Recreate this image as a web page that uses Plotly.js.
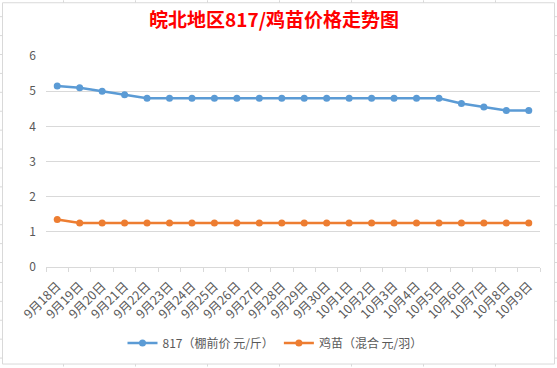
<!DOCTYPE html>
<html>
<head>
<meta charset="utf-8">
<script src="https://cdn.plot.ly/plotly-3.0.1.min.js"></script>
<style>
html,body{margin:0;padding:0;background:#fff;}
#chart{width:557px;height:368px;}
</style>
</head>
<body>
<div id="chart"></div>
<script>
var categories = ["9月18日","9月19日","9月20日","9月21日","9月22日","9月23日","9月24日","9月25日","9月26日","9月27日","9月28日","9月29日","9月30日","10月1日","10月2日","10月3日","10月4日","10月5日","10月6日","10月7日","10月8日","10月9日"];
var price817 = [5.15,5.1,5.0,4.9,4.8,4.8,4.8,4.8,4.8,4.8,4.8,4.8,4.8,4.8,4.8,4.8,4.8,4.8,4.65,4.55,4.45,4.45];
var priceChick = [1.35,1.25,1.25,1.25,1.25,1.25,1.25,1.25,1.25,1.25,1.25,1.25,1.25,1.25,1.25,1.25,1.25,1.25,1.25,1.25,1.25,1.25];
var seriesNames = ["817（棚前价 元/斤）","鸡苗（混合 元/羽）"];
var titleText = "皖北地区817/鸡苗价格走势图";

var W = 557, H = 368;
var mL = 46, mR = 17, mT = 56, mB = 100;
var pw = W - mL - mR, ph = H - mT - mB;
function px(x){ return (x - mL) / pw; }
function py(y){ return (H - mB - y) / ph; }

var font = "'Noto Sans CJK SC', 'Noto Sans', sans-serif";
var shapes = [];
// chart frame
shapes.push({type:'rect', xref:'paper', yref:'paper', x0:px(2.5), x1:px(554.5), y0:py(365.5), y1:py(2.5), line:{color:'#D9D9D9', width:1}, fillcolor:'rgba(0,0,0,0)', layer:'below'});
// spreadsheet grid stubs outside the frame
var cols = [63.5,135.5,207.5,279.5,351.5,423.5,495.5];
cols.forEach(function(c){
  shapes.push({type:'line', xref:'paper', yref:'paper', x0:px(c), x1:px(c), y0:py(0), y1:py(2.5), line:{color:'#D9D9D9', width:1}});
  shapes.push({type:'line', xref:'paper', yref:'paper', x0:px(c), x1:px(c), y0:py(365.5), y1:py(368), line:{color:'#D9D9D9', width:1}});
});
for (var k = 0; k < 19; k++) {
  var r = Math.round(15.7 + 19.06 * k) + 0.5;
  shapes.push({type:'line', xref:'paper', yref:'paper', x0:px(0), x1:px(2.5), y0:py(r), y1:py(r), line:{color:'#D9D9D9', width:1}});
  shapes.push({type:'line', xref:'paper', yref:'paper', x0:px(554.5), x1:px(557), y0:py(r), y1:py(r), line:{color:'#D9D9D9', width:1}});
}

var traces = [
  {x: categories, y: price817, name: seriesNames[0], type:'scatter', mode:'lines+markers',
   line:{color:'#5B9BD5', width:2.5}, marker:{color:'#5B9BD5', size:7}},
  {x: categories, y: priceChick, name: seriesNames[1], type:'scatter', mode:'lines+markers',
   line:{color:'#ED7D31', width:2.5}, marker:{color:'#ED7D31', size:7}}
];

var layout = {
  width: W, height: H,
  margin: {l:mL, r:mR, t:mT, b:mB, pad:0},
  paper_bgcolor:'#fff', plot_bgcolor:'#fff',
  font: {family: font, color:'#595959', size:12},
  title: {text: titleText, x: 0.492, xanchor:'center', y: 1 - 20/368, yanchor:'middle', yref:'container',
          font:{family: font, size:19, color:'#FF0000', weight:'bold'}},
  xaxis: {type:'category', showgrid:false, showline:true, linecolor:'#D9D9D9', linewidth:1,
          ticks:'outside', tickson:'boundaries', ticklen:4, tickcolor:'#D9D9D9', ticklabelstandoff:6,
          tickangle:-45, tickfont:{size:12.5, color:'#595959'}, range:[-0.5, 21.5], fixedrange:true, zeroline:false},
  yaxis: {range:[0,6], dtick:1, showgrid:true, gridcolor:'#D9D9D9', gridwidth:1, zeroline:false,
          showline:false, ticks:'', ticklabelstandoff:9, tickfont:{size:12, color:'#595959'}},
  showlegend: true,
  legend: {orientation:'h', x: px(275), xanchor:'center', y: py(343), yanchor:'middle',
           font:{size:12, color:'#595959'}, bgcolor:'rgba(0,0,0,0)', itemwidth:30},
  shapes: shapes
};

Plotly.newPlot('chart', traces, layout, {displayModeBar:false, staticPlot:true});
</script>
</body>
</html>
